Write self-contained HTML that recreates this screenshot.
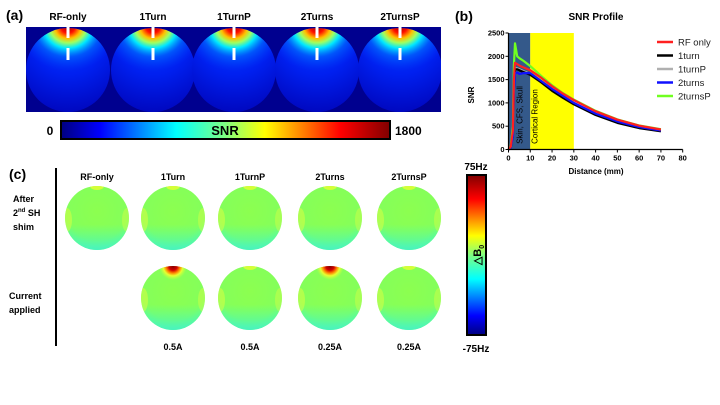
<!DOCTYPE html>
<html><head><meta charset="utf-8">
<style>
body{margin:0;background:#fff;}
svg{display:block;font-family:"Liberation Sans",sans-serif;}
.b{font-weight:bold;}
</style></head>
<body>
<svg width="720" height="405" viewBox="0 0 720 405">
<defs>
  <linearGradient id="jet" x1="0" x2="1" y1="0" y2="0">
    <stop offset="0" stop-color="#00007f"/><stop offset="0.12" stop-color="#0000ff"/>
    <stop offset="0.35" stop-color="#00ffff"/><stop offset="0.5" stop-color="#80ff80"/>
    <stop offset="0.62" stop-color="#ffff00"/><stop offset="0.85" stop-color="#ff0000"/>
    <stop offset="1" stop-color="#800000"/>
  </linearGradient>
  <linearGradient id="jetv" x1="0" x2="0" y1="1" y2="0">
    <stop offset="0" stop-color="#00007f"/><stop offset="0.12" stop-color="#0000ff"/>
    <stop offset="0.35" stop-color="#00ffff"/><stop offset="0.5" stop-color="#80ff80"/>
    <stop offset="0.62" stop-color="#ffff00"/><stop offset="0.85" stop-color="#ff0000"/>
    <stop offset="1" stop-color="#800000"/>
  </linearGradient>
  <radialGradient id="snrbody" cx="0.5" cy="0.1" r="0.9">
    <stop offset="0" stop-color="#0040ff"/><stop offset="0.5" stop-color="#0020f0"/>
    <stop offset="1" stop-color="#0008c0"/>
  </radialGradient>
  <radialGradient id="hot" cx="0.5" cy="0.5" r="0.5">
    <stop offset="0" stop-color="#a00000"/><stop offset="0.14" stop-color="#ff1000"/>
    <stop offset="0.26" stop-color="#ffc000"/><stop offset="0.36" stop-color="#a0ff60"/>
    <stop offset="0.48" stop-color="#00e8ff"/><stop offset="0.68" stop-color="#0070ff" stop-opacity="0.6"/>
    <stop offset="1" stop-color="#0040ff" stop-opacity="0"/>
  </radialGradient>
  <radialGradient id="b0" cx="0.5" cy="0.4" r="0.65">
    <stop offset="0" stop-color="#8cff50"/><stop offset="0.7" stop-color="#84ff5a"/>
    <stop offset="1" stop-color="#60ff90"/>
  </radialGradient>
  <linearGradient id="b0bot" x1="0" x2="0" y1="0" y2="1">
    <stop offset="0.6" stop-color="#40ffc0" stop-opacity="0"/>
    <stop offset="1" stop-color="#40f0d0" stop-opacity="0.8"/>
  </linearGradient>
  <radialGradient id="b0hot" cx="0.5" cy="0.5" r="0.5">
    <stop offset="0" stop-color="#800000"/><stop offset="0.3" stop-color="#d00000"/>
    <stop offset="0.5" stop-color="#ff8000"/><stop offset="0.7" stop-color="#e8ff30"/>
    <stop offset="1" stop-color="#c0ff40" stop-opacity="0"/>
  </radialGradient>
  <clipPath id="pa"><rect x="26" y="27" width="415" height="85"/></clipPath>
</defs>

<text x="6" y="20" font-size="14" class="b">(a)</text>
<g id="pa-titles" font-size="10" class="b" text-anchor="middle"></g>
<rect x="26" y="27" width="415" height="85" fill="#00008f"/>
<g id="pa-maps" clip-path="url(#pa)"></g>
<rect x="61" y="121" width="329" height="18" fill="url(#jet)" stroke="#000" stroke-width="2"/>
<text x="225" y="135" font-size="13" class="b" text-anchor="middle">SNR</text>
<text x="50" y="135" font-size="12" class="b" text-anchor="middle">0</text>
<text x="395" y="135" font-size="12" class="b">1800</text>

<text x="455" y="21" font-size="14" class="b">(b)</text>
<text x="596" y="20" font-size="10" class="b" text-anchor="middle">SNR Profile</text>
<text x="0" y="0" font-size="8" class="b" text-anchor="middle" transform="translate(474,95) rotate(-90)">SNR</text>
<text x="596" y="174" font-size="8" class="b" text-anchor="middle">Distance (mm)</text>
<g id="chart"></g>

<text x="9" y="179" font-size="14" class="b">(c)</text>
<line x1="56" y1="168" x2="56" y2="346" stroke="#000" stroke-width="2"/>
<g font-size="9" class="b">
  <text x="13" y="202">After</text>
  <text x="13" y="216">2<tspan font-size="6" dy="-4">nd</tspan><tspan dy="4"> SH</tspan></text>
  <text x="13" y="230">shim</text>
  <text x="9" y="299">Current</text>
  <text x="9" y="313">applied</text>
</g>
<g id="pc"></g>
<rect x="467" y="175" width="19" height="160" fill="url(#jetv)" stroke="#000" stroke-width="2"/>
<text x="0" y="0" font-size="11" class="b" text-anchor="middle" transform="translate(481,255) rotate(-90)">△B<tspan font-size="7" dy="3">0</tspan></text>
<text x="476" y="170" font-size="10" class="b" text-anchor="middle">75Hz</text>
<text x="476" y="352" font-size="10" class="b" text-anchor="middle">-75Hz</text>
</svg>

<script>
const NS='http://www.w3.org/2000/svg';
function mk(tag,attrs,parent){const e=document.createElementNS(NS,tag);for(const k in attrs)e.setAttribute(k,attrs[k]);parent.appendChild(e);return e;}

const distances=[0,1,2,2.5,3,4,5,7,10,15,20,25,30,40,50,60,70];
const rfOnly=[0,60,400,1500,1860,1830,1800,1760,1700,1540,1360,1200,1060,820,640,510,430];
const oneTurn=[0,40,300,1300,1720,1720,1700,1660,1600,1440,1260,1110,970,740,570,460,390];
const oneTurnP=[0,45,320,1350,1750,1740,1720,1680,1620,1460,1280,1130,990,760,590,475,400];
const twoTurns=[0,40,280,1250,1640,1650,1620,1640,1640,1470,1300,1150,1000,770,600,480,405];
const twoTurnsP=[0,70,500,1800,2280,2000,1960,1900,1790,1580,1380,1210,1070,830,645,515,435];
const seriesNames=['RF only','1turn','1turnP','2turns','2turnsP'];
const seriesColors=['#ff2020','#000000','#b0b0b0','#1010ff','#70ff20'];
const seriesData=[rfOnly,oneTurn,oneTurnP,twoTurns,twoTurnsP];
const drawOrder=[2,1,3,4,0];
const xTicks=[0,10,20,30,40,50,60,70,80];
const yTicks=[0,500,1000,1500,2000,2500];

const X0=508.5,X1=682.7,Y0=149.5,Y1=33;
const xs=v=>X0+(v/80)*(X1-X0);
const ys=v=>Y0-(v/2500)*(Y0-Y1);
const g=document.getElementById('chart');
let r=mk('rect',{x:xs(0),y:ys(2500),width:xs(10)-xs(0),height:ys(0)-ys(2500),fill:'#34598a'},g);


r=mk('rect',{x:xs(10),y:ys(2500),width:xs(30)-xs(10),height:ys(0)-ys(2500),fill:'#ffff00'},g);


let t=mk('text',{x:0,y:0,'font-size':8,fill:'#000',transform:`translate(${xs(5)+3},${ys(120)}) rotate(-90)`},g);t.textContent='Skin, CFS, Skull';


t=mk('text',{x:0,y:0,'font-size':8,fill:'#000',transform:`translate(${xs(12)+3},${ys(120)}) rotate(-90)`},g);t.textContent='Cortical Region';


drawOrder.forEach(i=>{
  const d=seriesData[i].map((v,j)=>(j?'L':'M')+xs(distances[j]).toFixed(1)+','+ys(v).toFixed(1)).join('');
  const p=mk('path',{d:d,fill:'none',stroke:seriesColors[i],'stroke-width':2.2,'stroke-linejoin':'round'},g);
  
  
});
mk('line',{x1:X0,y1:Y0,x2:X1,y2:Y0,stroke:'#000','stroke-width':1.2},g);
mk('line',{x1:X0,y1:Y0,x2:X0,y2:Y1,stroke:'#000','stroke-width':1.2},g);
xTicks.forEach(v=>{
  mk('line',{x1:xs(v),y1:Y0,x2:xs(v),y2:Y0+3,stroke:'#000'},g);
  const tt=mk('text',{x:xs(v),y:Y0+11,'font-size':7.5,'font-weight':'bold','text-anchor':'middle'},g);tt.textContent=v;
  
  
});
yTicks.forEach(v=>{
  mk('line',{x1:X0-3,y1:ys(v),x2:X0,y2:ys(v),stroke:'#000'},g);
  const tt=mk('text',{x:X0-4,y:ys(v)+2.5,'font-size':7.5,'font-weight':'bold','text-anchor':'end'},g);tt.textContent=v;
  
  
});
seriesNames.forEach((n,i)=>{
  const y=42+i*13.5;
  const le=mk('g',{},g);
  
  
  mk('line',{x1:657,y1:y,x2:673,y2:y,stroke:seriesColors[i],'stroke-width':2.5},le);
  const tt=mk('text',{x:678,y:y+3.5,'font-size':9.5,fill:'#222'},le);tt.textContent=n;
});

const aNames=['RF-only','1Turn','1TurnP','2Turns','2TurnsP'];
const aX=[68,153,234,317,400];
const pa=document.getElementById('pa-maps'),pt=document.getElementById('pa-titles');
aX.forEach((cx,i)=>{
  const tt=mk('text',{x:cx,y:20},pt);tt.textContent=aNames[i];
  
  
  const cp=mk('clipPath',{id:'ca'+i},pa);
  mk('circle',{cx:cx,cy:70,r:42},cp);
  const c=mk('circle',{cx:cx,cy:70,r:42,fill:'url(#snrbody)'},pa);
  
  
  mk('ellipse',{cx:cx,cy:27,rx:50,ry:44,fill:'url(#hot)','clip-path':'url(#ca'+i+')'},pa);
  mk('rect',{x:cx-1.5,y:27,width:3,height:11,fill:'#fff'},pa);
  mk('rect',{x:cx-1.5,y:48,width:3,height:12,fill:'#fff'},pa);
});

const cNames=['RF-only','1Turn','1TurnP','2Turns','2TurnsP'];
const cX=[97,173,250,330,409];
const currents=['','0.5A','0.5A','0.25A','0.25A'];
const hotRow2=[false,true,false,true,false];
const pc=document.getElementById('pc');
function b0circle(cx,cy,i,row,hot){
  const cp=mk('clipPath',{id:'cc'+row+i},pc);
  mk('circle',{cx:cx,cy:cy,r:32},cp);
  const c=mk('circle',{cx:cx,cy:cy,r:32,fill:'url(#b0)'},pc);
  
  
  const gg=mk('g',{'clip-path':'url(#cc'+row+i+')'},pc);
  mk('circle',{cx:cx,cy:cy,r:32,fill:'url(#b0bot)'},gg);
  mk('ellipse',{cx:cx-30,cy:cy+2,rx:5,ry:12,fill:'#e0ff40',opacity:0.5},gg);
  mk('ellipse',{cx:cx+30,cy:cy+2,rx:5,ry:12,fill:'#e0ff40',opacity:0.4},gg);
  if(hot) mk('ellipse',{cx:cx,cy:cy-32,rx:14,ry:14,fill:'url(#b0hot)'},gg);
  else mk('ellipse',{cx:cx,cy:cy-32,rx:7,ry:4,fill:'#e8ff30',opacity:0.8},gg);
}
cX.forEach((cx,i)=>{
  const tt=mk('text',{x:cx,y:180,'font-size':9,'font-weight':'bold','text-anchor':'middle'},pc);tt.textContent=cNames[i];
  
  
  b0circle(cx,218,i,1,false);
  if(i>0){
    b0circle(cx,298,i,2,hotRow2[i]);
    const ct=mk('text',{x:cx,y:350,'font-size':9,'font-weight':'bold','text-anchor':'middle'},pc);ct.textContent=currents[i];
    
    
  }
});
</script>
</body></html>
